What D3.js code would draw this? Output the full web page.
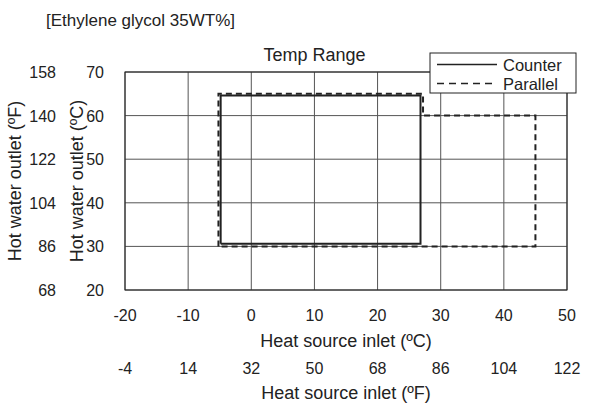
<!DOCTYPE html>
<html><head><meta charset="utf-8">
<script src="https://cdn.jsdelivr.net/npm/d3@7"></script>
<style>body{margin:0;background:#fff}svg{font-family:"Liberation Sans",Arial,sans-serif}</style>
</head><body><svg id="c" width="591" height="405"></svg>
<script>
const xTicksC = [-20,-10,0,10,20,30,40,50];
const xTicksF = ["-4","14","32","50","68","86","104","122"];
const yTicksC = [20,30,40,50,60,70];
const yTicksF = ["68","86","104","122","140","158"];
const counterX = [-4.85,-4.85,26.8,26.8,-4.85];
const counterY = [30.6,64.6,64.6,30.6,30.6];
const parallelX = [-5.2,-5.2,27.2,27.2,45,45,-5.2];
const parallelY = [30,65,65,60,60,30,30];
const seriesNames = ["Counter","Parallel"];

const svg = d3.select("#c");
const L=125,R=567,T=72,B=290;
const x = d3.scaleLinear().domain([-20,50]).range([L,R]);
const y = d3.scaleLinear().domain([20,70]).range([B,T]);
const grid="#555", ink="#222";

// grid
svg.append("g").selectAll("line").data(xTicksC).join("line")
  .attr("x1",d=>x(d)).attr("x2",d=>x(d)).attr("y1",T).attr("y2",B)
  .attr("stroke",grid).attr("stroke-width",1);
svg.append("g").selectAll("line").data(yTicksC).join("line")
  .attr("x1",L).attr("x2",R).attr("y1",d=>y(d)).attr("y2",d=>y(d))
  .attr("stroke",grid).attr("stroke-width",1);
svg.append("rect").attr("x",L).attr("y",T).attr("width",R-L).attr("height",B-T)
  .attr("fill","none").attr("stroke",ink).attr("stroke-width",1);

// tick labels
const fs=16, ft=18;
svg.append("g").selectAll("text").data(xTicksC).join("text")
  .attr("x",d=>x(d)).attr("y",321).attr("text-anchor","middle").attr("font-size",fs).attr("fill",ink).text(d=>d);
svg.append("g").selectAll("text").data(xTicksF).join("text")
  .attr("x",(d,i)=>x(xTicksC[i])).attr("y",374).attr("text-anchor","middle").attr("font-size",fs).attr("fill",ink).text(d=>d);
svg.append("g").selectAll("text").data(yTicksC).join("text")
  .attr("x",104).attr("y",d=>y(d)+6).attr("text-anchor","end").attr("font-size",fs).attr("fill",ink).text(d=>d);
svg.append("g").selectAll("text").data(yTicksF).join("text")
  .attr("x",56).attr("y",(d,i)=>y(yTicksC[i])+6).attr("text-anchor","end").attr("font-size",fs).attr("fill",ink).text(d=>d);

// titles
svg.append("text").attr("x",x(15)).attr("y",347).attr("text-anchor","middle").attr("font-size",ft).attr("fill",ink).text("Heat source inlet (ºC)");
svg.append("text").attr("x",x(15)).attr("y",399).attr("text-anchor","middle").attr("font-size",ft).attr("fill",ink).text("Heat source inlet (ºF)");
svg.append("text").attr("transform",`translate(21,${(T+B)/2}) rotate(-90)`).attr("text-anchor","middle").attr("font-size",ft).attr("fill",ink).text("Hot water outlet (ºF)");
svg.append("text").attr("transform",`translate(83,${(T+B)/2}) rotate(-90)`).attr("text-anchor","middle").attr("font-size",ft).attr("fill",ink).text("Hot water outlet (ºC)");
svg.append("text").attr("x",46).attr("y",26).attr("font-size",17).attr("fill",ink).text("[Ethylene glycol 35WT%]");
svg.append("text").attr("x",x(10)).attr("y",61).attr("text-anchor","middle").attr("font-size",ft).attr("fill",ink).text("Temp Range");

// series
const line = d3.line().x(d=>x(d[0])).y(d=>y(d[1]));
svg.append("path").datum(counterX.map((v,i)=>[v,counterY[i]])).attr("d",line)
  .attr("fill","none").attr("stroke",ink).attr("stroke-width",2);
svg.append("path").datum(parallelX.map((v,i)=>[v,parallelY[i]])).attr("d",line)
  .attr("fill","none").attr("stroke",ink).attr("stroke-width",2).attr("stroke-dasharray","6,4");

// legend
const lg=svg.append("g");
lg.append("rect").attr("x",430).attr("y",53).attr("width",146).attr("height",40).attr("fill","#fff").attr("stroke",ink).attr("stroke-width",1);
seriesNames.forEach((n,i)=>{
  const yy=64.5+i*19;
  lg.append("line").attr("x1",437).attr("x2",497).attr("y1",yy).attr("y2",yy).attr("stroke",ink).attr("stroke-width",1.5)
    .attr("stroke-dasharray",i?"7,5":null);
  lg.append("text").attr("x",503).attr("y",yy+6).attr("font-size",16.5).attr("fill",ink).text(n);
});
</script></body></html>
